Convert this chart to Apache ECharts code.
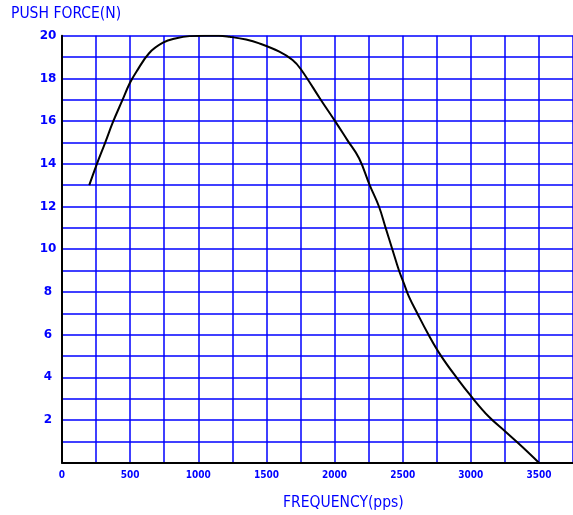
<!DOCTYPE html>
<html>
<head>
<meta charset="utf-8">
<script src="https://cdn.jsdelivr.net/npm/echarts@6/dist/echarts.min.js"></script>
<style>html,body{margin:0;padding:0;background:#fff;}#c{width:573px;height:515px;}</style>
</head>
<body>
<div id="c"></div>
<script>
const frequency = [200, 253, 315, 375, 444, 497, 546, 639, 741, 839, 936, 1050, 1150, 1229, 1351, 1448, 1595, 1692, 1753, 1900, 2004, 2094, 2180, 2258, 2326, 2375, 2424, 2473, 2509, 2546, 2607, 2685, 2778, 2900, 3005, 3133, 3255, 3377, 3500];
const pushForce = [13.0, 13.94, 14.96, 15.97, 16.99, 17.77, 18.31, 19.18, 19.67, 19.88, 19.98, 20.0, 20.0, 19.95, 19.82, 19.64, 19.25, 18.86, 18.43, 16.99, 16.0, 15.11, 14.26, 13.0, 12.0, 11.0, 10.0, 9.0, 8.4, 7.78, 7.0, 6.05, 5.04, 3.95, 3.09, 2.15, 1.45, 0.75, 0.0];
const xTickLabels = ['0', '500', '1000', '1500', '2000', '2500', '3000', '3500'];
const yTickLabels = ['2', '4', '6', '8', '10', '12', '14', '16', '18', '20'];

const BLUE = '#0000ff';
const chart = echarts.init(document.getElementById('c'));
chart.setOption({
  animation: false,
  backgroundColor: '#fff',
  title: [
    { text: 'PUSH FORCE(N)', left: 6, top: 1,
      textStyle: { color: BLUE, fontSize: 15.5, fontWeight: 'normal', fontFamily: 'DejaVu Sans Condensed, DejaVu Sans' } },
    { text: 'FREQUENCY(pps)', left: 278, top: 490,
      textStyle: { color: BLUE, fontSize: 15.5, fontWeight: 'normal', fontFamily: 'DejaVu Sans Condensed, DejaVu Sans' } }
  ],
  grid: { left: 62, top: 35.7, bottom: 52.3, right: -1.6 },
  xAxis: {
    type: 'value', min: 0, max: 3750, interval: 250,
    axisLine: { show: true, onZero: false, lineStyle: { color: '#000', width: 2 } },
    axisTick: { show: false },
    splitLine: { show: true, lineStyle: { color: BLUE, width: 1.5 } },
    axisLabel: {
      color: BLUE, fontSize: 10, fontWeight: 'bold', fontFamily: 'DejaVu Sans Condensed, DejaVu Sans', margin: 8,
      showMaxLabel: false,
      formatter: function (v) { const s = String(v); return xTickLabels.indexOf(s) >= 0 ? s : ''; }
    }
  },
  yAxis: {
    type: 'value', min: 0, max: 20, interval: 1,
    axisLine: { show: true, onZero: false, lineStyle: { color: '#000', width: 2 } },
    axisTick: { show: false },
    splitLine: { show: true, lineStyle: { color: BLUE, width: 1.5 } },
    axisLabel: {
      color: BLUE, fontSize: 12, fontWeight: 'bold', fontFamily: 'DejaVu Sans', margin: 10, align: 'center', padding: [0, 8, 0, 0],
      formatter: function (v) { const s = String(v); return yTickLabels.indexOf(s) >= 0 ? s : ''; }
    }
  },
  series: [{
    type: 'line',
    data: frequency.map((f, i) => [f, pushForce[i]]),
    smooth: 0.4,
    showSymbol: false,
    lineStyle: { color: '#000', width: 2 }
  }]
});
</script>
</body>
</html>
